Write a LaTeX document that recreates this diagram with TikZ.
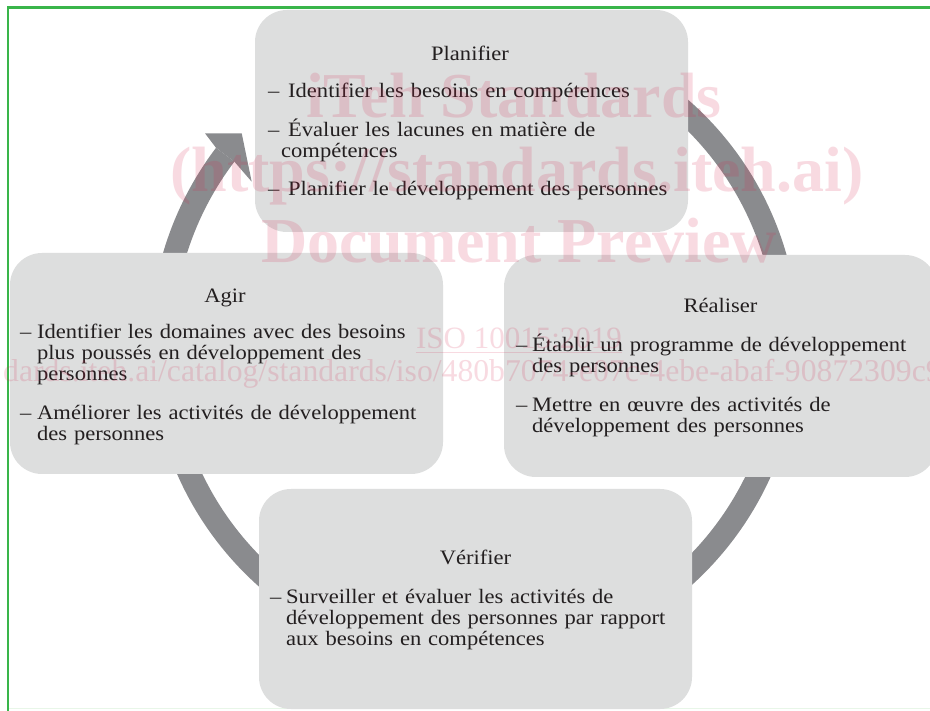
\documentclass[tikz,border=0pt]{standalone}
\usepackage{fontspec}
\setmainfont{Liberation Serif}[FakeStretch=1.1]
\newfontfamily\wmfont{Liberation Serif}
\definecolor{boxgray}{RGB}{221,222,222}
\definecolor{arcgray}{RGB}{138,139,142}
\definecolor{framegreen}{RGB}{57,181,74}
\definecolor{palegreen}{RGB}{232,246,232}
\definecolor{inkc}{RGB}{35,31,32}
\definecolor{wmpink}{RGB}{214,40,80}
\newcommand{\ditem}[2]{\hangindent=#1\hangafter=1\noindent\makebox[#1][l]{–}#2}
\newcommand{\bodyfont}{\fontsize{20.5pt}{21pt}\selectfont}
\newcommand{\wmbig}{\wmfont\bfseries\fontsize{64pt}{70pt}\selectfont}
\newcommand{\wmsmall}{\wmfont\fontsize{31pt}{34pt}\selectfont}
\newcommand{\wmurl}{\wmfont\fontsize{31.7pt}{34pt}\selectfont}
\begin{document}
\begin{tikzpicture}[x=1pt,y=1pt,
  stagebox/.style={fill=boxgray, draw=none, rounded corners=32pt, inner sep=0pt, minimum width=433pt},
  titletext/.style={anchor=base, inner sep=0pt, text=inkc, font=\bodyfont},
  itemtext/.style={anchor=base west, inner sep=0pt, text=inkc, font=\bodyfont, text width=440pt},
  wm/.style={inner sep=0pt, text=wmpink, text opacity=0.17, anchor=base}]
\useasboundingbox (0,0) rectangle (930,-711);
\clip (0,0) rectangle (930,-711);
\fill[white] (0,0) rectangle (930,-711);
% frame
\draw[palegreen, line width=1.5pt] (9,-708.5) -- (930,-708.5);
\draw[framegreen, line width=2.6pt] (8,-711) -- (8,-7.5) -- (930,-7.5);
% circular arrow
\draw[arcgray, line width=23pt] ([shift={(474.5,-344)}]96:313) arc[start angle=96, end angle=-217.2, radius=313];
\fill[arcgray] (216.0,-147.8) -- (205,-133.3) -- (241.7,-133.3) -- (251.7,-181.7) -- (234.4,-161.7) -- cycle;
% boxes
\node[stagebox, minimum height=222pt] (plan) at (471.5,-121) {};
\node[stagebox, minimum height=221pt] (agir) at (226.5,-363.5) {};
\node[stagebox, minimum height=222pt] (real) at (720.5,-366) {};
\node[stagebox, minimum height=220pt] (veri) at (475.5,-599) {};
% titles
\node[titletext] (planT) at (470,-61) {Planifier};
\node[titletext] (agirT) at (225,-303) {Agir};
\node[titletext] (realT) at (720.5,-313) {Réaliser};
\node[titletext] (veriT) at (475.5,-564) {Vérifier};
% items
\node[itemtext] (planI) at (268,-98) {\ditem{13pt}{\hspace{7pt}Identifier les besoins en compétences}\par\vspace{16pt}\ditem{13pt}{\hspace{7pt}Évaluer les lacunes en matière de\newline compétences}\par\vspace{17pt}\ditem{13pt}{\hspace{7pt}Planifier le développement des personnes}\par};
\node[itemtext] (agirI) at (20,-338.5) {\ditem{17pt}{Identifier les domaines avec des besoins\newline plus poussés en développement des\newline personnes}\par\vspace{18pt}\ditem{17pt}{Améliorer les activités de développement\newline des personnes}\par};
\node[itemtext] (realI) at (516,-352) {\ditem{16pt}{Établir un programme de développement\newline des personnes}\par\vspace{18pt}\ditem{16pt}{Mettre en œuvre des activités de\newline développement des personnes}\par};
\node[itemtext] (veriI) at (270,-603) {\ditem{16pt}{Surveiller et évaluer les activités de\newline développement des personnes par rapport\newline aux besoins en compétences}\par};
% watermark
\node[wm, font=\wmbig] (wm1) at (514,-118) {iTeh Standards};
\node[wm, font=\wmbig] (wm2) at (517,-192) {(https://standards.iteh.ai)};
\node[wm, font=\wmbig] (wm3) at (519,-263) {Document Preview};
\node[wm, font=\wmsmall] (wm4) at (519,-349) {ISO 10015:2019};
\draw[wmpink, draw opacity=0.17, line width=1.5pt] ([yshift=-3.5pt]wm4.base west) -- ([yshift=-3.5pt]wm4.base east);
\node[wm, anchor=base west, font=\wmurl] (wm5) at (3,-382) {dards.iteh.ai/catalog/standards/iso/480b7074-e07c-4ebe-abaf-90872309c9};
\end{tikzpicture}
\end{document}
